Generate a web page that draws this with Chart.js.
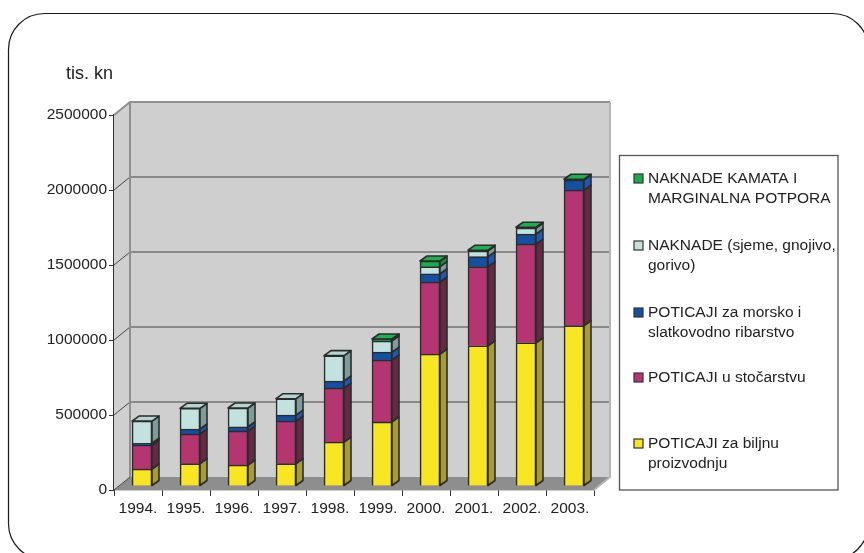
<!DOCTYPE html>
<html>
<head>
<meta charset="utf-8">
<script src="https://cdn.jsdelivr.net/npm/chart.js@4"></script>
<style>
  html, body { margin: 0; padding: 0; background: #fff; }
  #wrap { width: 864px; height: 553px; overflow: hidden; }
</style>
</head>
<body>
<div id="wrap"><canvas id="myChart" width="864" height="553"></canvas></div>
<script>
const years = ['1994.', '1995.', '1996.', '1997.', '1998.', '1999.', '2000.', '2001.', '2002.', '2003.'];
const biljna = [113000, 149000, 140000, 149000, 293000, 427000, 880000, 935000, 955000, 1069000];
const stocarstvo = [160000, 198000, 227000, 284000, 360000, 413000, 480000, 527000, 658000, 904000];
const ribarstvo = [12000, 33000, 28000, 40000, 47000, 53000, 55000, 67000, 67000, 67000];
const naknade = [148000, 138000, 125000, 109000, 169000, 74000, 47000, 38000, 40000, 0];
const kamate = [0, 0, 0, 0, 0, 13000, 38000, 5000, 5000, 5000];
const yTicks = [0, 500000, 1000000, 1500000, 2000000, 2500000];

// legend text, top to bottom
const legendLabels = [
  ['NAKNADE KAMATA I', 'MARGINALNA POTPORA'],
  ['NAKNADE (sjeme, gnojivo,', 'gorivo)'],
  ['POTICAJI za morsko i', 'slatkovodno ribarstvo'],
  ['POTICAJI u stočarstvu'],
  ['POTICAJI za biljnu', 'proizvodnju']
];
const legendFirstLine = [183, 250, 317, 382, 448];

const outline = '#2b2b2b';
const wallDx = 16, wallDy = 13;   // depth of the walls
const barDx = 4, barDy = -4;      // bars stand a bit behind the front edge
const sideDx = 7, sideDy = -5;    // depth of a bar
const fontName = 'Liberation Sans';

const faces = [
  { front: '#f9e622', side: '#a89a35', top: '#d8c92a' },
  { front: '#b53570', side: '#642943', top: '#8a2c58' },
  { front: '#1350a0', side: '#2058b0', top: '#1b57a8' },
  { front: '#c3e2df', side: '#7d9c9a', top: '#b3d6d3' },
  { front: '#16ae4c', side: '#1c8a40', top: '#1eb050' }
];

function poly(ctx, pts, fill, stroke, lw) {
  ctx.beginPath();
  pts.forEach((p, i) => i ? ctx.lineTo(p[0], p[1]) : ctx.moveTo(p[0], p[1]));
  ctx.closePath();
  if (fill) { ctx.fillStyle = fill; ctx.fill(); }
  if (stroke) { ctx.strokeStyle = stroke; ctx.lineWidth = lw; ctx.stroke(); }
}

const walls = {
  id: 'walls',
  beforeDatasetsDraw(chart) {
    const ctx = chart.ctx, y = chart.scales.y, a = chart.chartArea;
    ctx.save();
    poly(ctx, [[a.left, a.top], [a.left + wallDx, a.top - wallDy], [a.left + wallDx, a.bottom - wallDy], [a.left, a.bottom]], '#cfcfcf');
    poly(ctx, [[a.left + wallDx, a.top - wallDy], [a.right + wallDx, a.top - wallDy], [a.right + wallDx, a.bottom - wallDy], [a.left + wallDx, a.bottom - wallDy]], '#cfcfcf');
    poly(ctx, [[a.left, a.bottom], [a.left + wallDx, a.bottom - wallDy], [a.right + wallDx, a.bottom - wallDy], [a.right, a.bottom]], '#8e8e8e');
    ctx.strokeStyle = '#444';
    ctx.lineWidth = 1;
    yTicks.forEach(v => {
      if (v === 2500000) return;
      const py = Math.round(y.getPixelForValue(v));
      ctx.beginPath();
      ctx.moveTo(a.left, py);
      ctx.lineTo(a.left + wallDx, py - wallDy);
      if (v > 0) ctx.lineTo(a.right + wallDx, py - wallDy);
      ctx.stroke();
    });
    // wall edges
    ctx.strokeStyle = '#8f8f8f';
    ctx.lineWidth = 2;
    ctx.beginPath();
    ctx.moveTo(a.left, a.top);
    ctx.lineTo(a.left + wallDx, a.top - wallDy);
    ctx.lineTo(a.right + wallDx, a.top - wallDy);
    ctx.moveTo(a.left + wallDx, a.top - wallDy);
    ctx.lineTo(a.left + wallDx, a.bottom - wallDy);
    ctx.stroke();
    ctx.strokeStyle = '#b5b5b5';
    ctx.beginPath();
    ctx.moveTo(a.right + wallDx, a.top - wallDy);
    ctx.lineTo(a.right + wallDx, a.bottom - wallDy);
    ctx.lineTo(a.right, a.bottom);
    ctx.stroke();
    ctx.restore();
  },
  // bars are shifted back from the axis edge
  beforeDatasetDraw(chart) {
    chart.ctx.save();
    chart.ctx.translate(barDx, barDy);
  },
  afterDatasetDraw(chart) {
    chart.ctx.restore();
  },
  afterDatasetsDraw(chart) {
    const ctx = chart.ctx;
    ctx.save();
    ctx.translate(barDx, barDy);
    ctx.lineJoin = 'round';
    years.forEach((yr, i) => {
      let last = null;
      chart.data.datasets.forEach((ds, d) => {
        if (!ds.data[i]) return;
        const b = chart.getDatasetMeta(d).data[i];
        const r = b.x + b.width / 2;
        poly(ctx, [[r, b.y], [r + sideDx, b.y + sideDy], [r + sideDx, b.base + sideDy], [r, b.base]], faces[d].side, outline, 1.6);
        last = { b, r, d };
      });
      if (last) {
        const l = last.r - last.b.width;
        const t = last.b.y;
        poly(ctx, [[l, t], [l + sideDx, t + sideDy], [last.r + sideDx, t + sideDy], [last.r, t]], faces[last.d].top, outline, 1.6);
      }
    });
    ctx.restore();
  },
  beforeDraw(chart) {
    const ctx = chart.ctx;
    ctx.save();
    ctx.strokeStyle = '#1a1a1a';
    ctx.lineWidth = 1.2;
    ctx.beginPath();
    ctx.roundRect(8.5, 13.5, 860, 546, 36);
    ctx.stroke();
    ctx.fillStyle = '#222';
    ctx.font = '18px "' + fontName + '"';
    ctx.textBaseline = 'alphabetic';
    ctx.fillText('tis. kn', 66, 79);
    ctx.restore();
  },
  afterDraw(chart) {
    const ctx = chart.ctx;
    ctx.save();
    ctx.strokeStyle = '#555';
    ctx.lineWidth = 1.3;
    ctx.strokeRect(619.5, 155.5, 218.5, 334.5);
    ctx.font = '15.5px "' + fontName + '"';
    ctx.textBaseline = 'alphabetic';
    legendLabels.forEach((lines, i) => {
      const base = legendFirstLine[i];
      const f = faces[faces.length - 1 - i];
      ctx.fillStyle = f.front;
      ctx.fillRect(634, base - 9, 9, 9);
      ctx.strokeStyle = '#333';
      ctx.lineWidth = 1.2;
      ctx.strokeRect(634, base - 9, 9, 9);
      ctx.fillStyle = '#222';
      lines.forEach((t, j) => ctx.fillText(t, 648, base + j * 20));
    });
    ctx.restore();
  }
};

const seriesNames = ['POTICAJI za biljnu proizvodnju', 'POTICAJI u stočarstvu', 'POTICAJI za morsko i slatkovodno ribarstvo', 'NAKNADE (sjeme, gnojivo, gorivo)', 'NAKNADE KAMATA I MARGINALNA POTPORA'];
const seriesValues = [biljna, stocarstvo, ribarstvo, naknade, kamate];

const data = {
  labels: years,
  datasets: seriesValues.map((vals, d) => ({
    label: seriesNames[d],
    data: vals,
    backgroundColor: faces[d].front,
    borderColor: outline,
    borderWidth: 1.6,
    barThickness: 20,
    clip: false
  }))
};

const config = {
  type: 'bar',
  data: data,
  plugins: [walls],
  options: {
    responsive: false,
    animation: false,
    layout: { padding: { left: 0, right: 270, top: 115, bottom: 33 } },
    plugins: { legend: { display: false }, tooltip: { enabled: false } },
    scales: {
      x: {
        stacked: true,
        afterFit(scale) { scale.height = 30; },
        grid: { drawOnChartArea: false, tickLength: 6, color: '#333', offset: true },
        border: { color: '#333', width: 1.3 },
        ticks: { color: '#222', font: { family: fontName, size: 15.5 }, padding: 3, maxRotation: 0, autoSkip: false }
      },
      y: {
        stacked: true,
        min: 0,
        max: 2500000,
        afterFit(scale) { scale.width = 114; },
        afterBuildTicks(scale) { scale.ticks = yTicks.map(v => ({ value: v })); },
        grid: { drawOnChartArea: false, tickLength: 5, color: '#333' },
        border: { color: '#333', width: 1.3 },
        ticks: { color: '#222', font: { family: fontName, size: 15.5 }, padding: 2, callback: v => String(v) }
      }
    }
  }
};

const myChart = new Chart(document.getElementById('myChart'), config);
</script>
</body>
</html>
